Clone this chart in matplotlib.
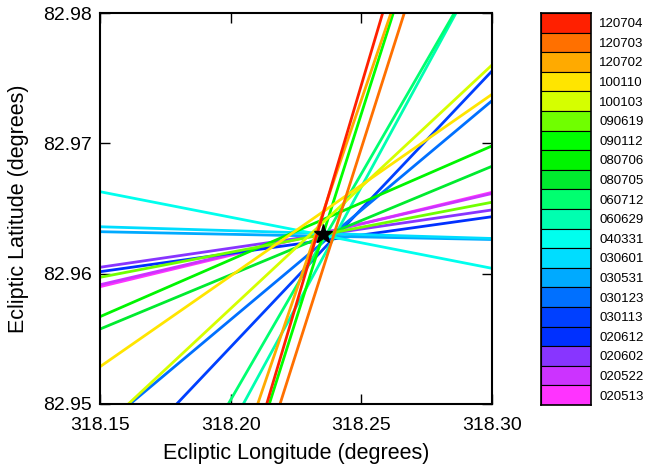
import matplotlib
matplotlib.use("Agg")
import matplotlib.pyplot as plt

plt.rcParams["font.family"] = ["Liberation Sans", "DejaVu Sans"]

# epoch labels (legend order, top to bottom) and their colours
labels = ["120704", "120703", "120702", "100110", "100103", "090619", "090112",
          "080706", "080705", "060712", "060629", "040331", "030601", "030531",
          "030123", "030113", "020612", "020602", "020522", "020513"]
colors = ["#FF2000", "#FF7000", "#FFAA00", "#FFE500", "#D5FF00", "#70FF00", "#00FF00",
          "#00F500", "#00EB2E", "#00FF70", "#00FFB0", "#00FFEE", "#00DDFF", "#00AAFF",
          "#0070FF", "#0040FF", "#0030FF", "#8835FF", "#CC33FF", "#FF33FF"]

# line end points (ecliptic longitude / latitude, degrees)
lon_start = [318.21379, 318.21888, 318.21034, 318.15, 318.16083, 318.15, 318.21478,
             318.15, 318.15, 318.19909, 318.20483, 318.15, 318.15, 318.15,
             318.16148, 318.17935, 318.15, 318.15, 318.15, 318.15]
lat_start = [82.95, 82.95, 82.95, 82.95286, 82.95, 82.95972, 82.95,
             82.95670, 82.95575, 82.95, 82.95, 82.96629, 82.96360, 82.96322,
             82.95, 82.95, 82.96015, 82.96049, 82.95915, 82.95900]
lon_end = [318.25818, 318.26644, 318.26135, 318.30, 318.30, 318.30, 318.26223,
           318.30, 318.30, 318.28557, 318.28622, 318.30, 318.30, 318.30,
           318.30, 318.30, 318.30, 318.30, 318.30, 318.30]
lat_end = [82.98, 82.98, 82.98, 82.97376, 82.97601, 82.96548, 82.98,
           82.96980, 82.96824, 82.98, 82.98, 82.96041, 82.96270, 82.96262,
           82.97327, 82.97555, 82.96437, 82.96489, 82.96615, 82.96624]

best_lon = 318.23533
best_lat = 82.96304

fig = plt.figure(figsize=(6.47, 4.68), dpi=100)
ax = fig.add_axes([100 / 647, 64 / 468, 392 / 647, 391 / 468])

for i in range(len(labels) - 1, -1, -1):
    ax.plot([lon_start[i], lon_end[i]], [lat_start[i], lat_end[i]],
            color=colors[i], lw=2.0, solid_capstyle="butt")

ax.plot(best_lon, best_lat, marker="*", color="black", ms=14, zorder=5)

ax.set_xlim(318.15, 318.30)
ax.set_ylim(82.95, 82.98)
ax.set_xticks([318.15, 318.20, 318.25, 318.30])
ax.set_xticklabels(["318.15", "318.20", "318.25", "318.30"])
ax.set_yticks([82.95, 82.96, 82.97, 82.98])
ax.set_yticklabels(["82.95", "82.96", "82.97", "82.98"])
ax.tick_params(direction="in", length=7, width=1, top=True, right=True,
               labelsize=14)
ax.tick_params(axis="x", pad=9)
ax.tick_params(axis="y", pad=6)
for sp in ax.spines.values():
    sp.set_linewidth(1.5)
ax.set_xlabel("Ecliptic Longitude (degrees)", fontsize=15.5, labelpad=7)
ax.set_ylabel("Ecliptic Latitude (degrees)", fontsize=15.5, labelpad=10)

# colour key on the right
lax = fig.add_axes([541 / 647, 63 / 468, 50 / 647, 392 / 468])
pos = list(range(len(labels)))
lax.barh(pos, [1] * len(labels), height=1.0, left=0, color=colors,
         edgecolor="black", linewidth=0.8)
lax.set_xlim(0, 1)
lax.set_ylim(len(labels) - 0.5, -0.5)
lax.set_xticks([])
lax.set_yticks(pos)
lax.set_yticklabels(labels)
lax.yaxis.tick_right()
lax.tick_params(axis="y", length=0, labelsize=9.5, pad=6)
for sp in lax.spines.values():
    sp.set_linewidth(1.2)

fig.savefig("out.png", dpi=100)
